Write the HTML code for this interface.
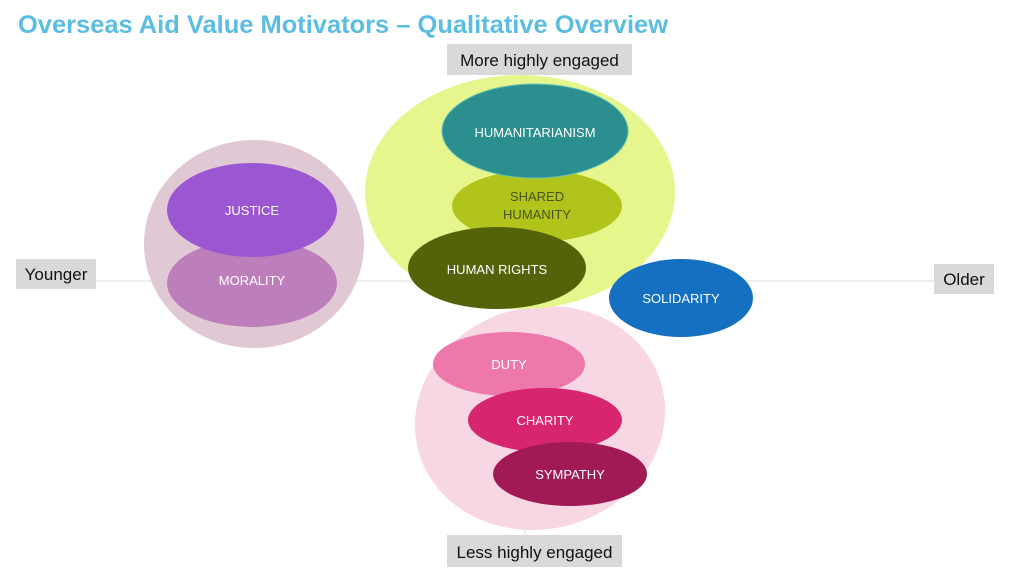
<!DOCTYPE html>
<html><head><meta charset="utf-8"><style>
html,body{margin:0;padding:0;background:#fff;}
svg{display:block;}
text{font-family:"Liberation Sans",sans-serif;}
</style></head><body>
<svg width="1024" height="577" viewBox="0 0 1024 577" xmlns="http://www.w3.org/2000/svg">
<rect width="1024" height="577" fill="#fff"/>
<text x="18" y="33" font-size="25" font-weight="bold" fill="#5bbde2" textLength="650" lengthAdjust="spacingAndGlyphs">Overseas Aid Value Motivators – Qualitative Overview</text>
<line x1="96" y1="281" x2="934" y2="281" stroke="#dcdcdc" stroke-width="1"/>
<line x1="525" y1="75" x2="525" y2="535" stroke="#dcdcdc" stroke-width="1"/>
<!-- left group -->
<ellipse cx="254" cy="244" rx="110" ry="104" fill="#e0c9d4"/>
<ellipse cx="252" cy="283" rx="85" ry="44" fill="#bd7fbb"/>
<ellipse cx="252" cy="210" rx="85" ry="47" fill="#9b57d1"/>
<!-- pink group -->
<ellipse cx="540" cy="418" rx="126" ry="111" fill="#f8d7e5" transform="rotate(-15 540 418)"/>
<ellipse cx="509" cy="364" rx="76" ry="32" fill="#ee78a9"/>
<ellipse cx="545" cy="420" rx="77" ry="32" fill="#d8256f"/>
<ellipse cx="570" cy="474" rx="77" ry="32" fill="#a21a55"/>
<!-- yellow group -->
<ellipse cx="520" cy="192" rx="155" ry="117" fill="#e6f68c"/>
<ellipse cx="537" cy="206" rx="85" ry="36" fill="#b0c41c"/>
<ellipse cx="535" cy="131" rx="93" ry="47" fill="#2a8f8e" stroke="#5fc0b8" stroke-width="1"/>
<ellipse cx="497" cy="268" rx="89" ry="41" fill="#556209"/>
<!-- solidarity -->
<ellipse cx="681" cy="298" rx="72" ry="39" fill="#1570c2"/>
<!-- labels in ellipses -->
<g font-size="13" fill="#fff" text-anchor="middle">
<text x="252" y="215">JUSTICE</text>
<text x="252" y="285">MORALITY</text>
<text x="535" y="137">HUMANITARIANISM</text>
<text x="537" y="201" fill="#4a5320">SHARED</text>
<text x="537" y="219" fill="#4a5320">HUMANITY</text>
<text x="497" y="274">HUMAN RIGHTS</text>
<text x="681" y="303">SOLIDARITY</text>
<text x="509" y="369">DUTY</text>
<text x="545" y="425">CHARITY</text>
<text x="570" y="479">SYMPATHY</text>
</g>
<!-- axis boxes -->
<rect x="447" y="44" width="185" height="31" fill="#d9d9d9"/>
<text x="539.5" y="66" font-size="17" text-anchor="middle" fill="#111">More highly engaged</text>
<rect x="447" y="535" width="175" height="32" fill="#d9d9d9"/>
<text x="534.5" y="558" font-size="17" text-anchor="middle" fill="#111">Less highly engaged</text>
<rect x="16" y="259" width="80" height="30" fill="#d9d9d9"/>
<text x="56" y="280" font-size="17" text-anchor="middle" fill="#111">Younger</text>
<rect x="934" y="264" width="60" height="30" fill="#d9d9d9"/>
<text x="964" y="285" font-size="17" text-anchor="middle" fill="#111">Older</text>
</svg>
</body></html>
